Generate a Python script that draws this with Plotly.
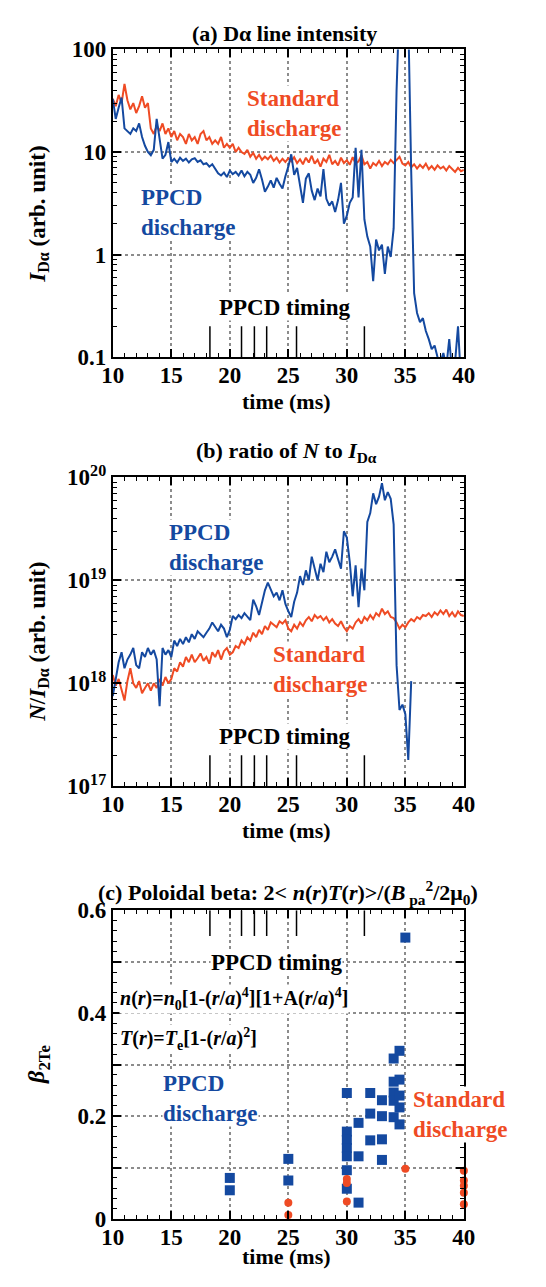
import numpy as np
import plotly.graph_objects as go

# ---------------- data ----------------
T0 = 10.0      # first sample time (ms)
STEP = 0.25    # spacing of the read-off samples (ms)

# (a) D-alpha line intensity (arb. unit)
ida_standard = [33, 28, 36, 30, 46, 32, 26, 30, 24, 28, 35, 27, 30, 17, 15, 18, 16, 19, 15, 17,
                14, 16, 13, 15, 14, 12, 15, 13, 14, 12, 15, 16, 13, 14, 12, 13, 12, 14, 11, 12,
                11, 12, 10, 11, 10, 9.6, 10.5, 9.0, 9.8, 8.6, 9.4, 8.4, 9.0, 8.5, 9.2, 8.2, 8.8, 7.9, 8.6, 8.0,
                8.7, 8.1, 8.9, 7.8, 8.5, 7.6, 8.8, 7.9, 9.2, 7.7, 8.4, 7.2, 8.6, 8.0, 9.4, 7.6, 8.2, 7.4, 8.8, 7.8,
                8.3, 7.5, 8.9, 7.7, 8.1, 9.3, 7.6, 8.0, 6.9, 7.8, 7.4, 8.2, 7.3, 8.0, 7.6, 8.4, 7.8, 8.3, 9.0, 7.7,
                7.4, 8.0, 7.1, 7.6, 6.9, 7.5, 7.0, 7.7, 6.8, 7.3, 6.7, 7.4, 6.9, 7.2, 6.6, 7.3, 6.8, 6.4, 7.0, 6.5,
                6.7]
ida_ppcd = [33, 21, 27, 34, 17, 16, 15, 17, 16, 19, 14, 11.5, 10, 9.3, 10.5, 21, 13, 8.6, 9.4, 12.5,
            8.0, 8.6, 7.9, 8.8, 8.2, 8.6, 7.9, 8.5, 8.7, 8.0, 8.3, 7.6, 7.8, 7.2, 7.6, 6.9, 6.2, 5.9, 6.3, 5.7,
            6.6, 6.1, 6.4, 5.9, 6.6, 5.8, 6.4, 6.0, 5.0, 5.6, 6.8, 5.4, 4.1, 4.6, 5.3, 4.5, 5.6, 4.9, 4.4, 5.8,
            7.2, 9.5, 6.0, 7.0, 4.6, 3.2, 5.5, 6.2, 4.2, 3.4, 4.4, 3.7, 6.8, 3.5, 3.0, 3.3, 2.6, 3.4, 5.0, 2.0,
            2.4, 3.2, 3.6, 11, 3.6, 10.5, 2.2, 1.5, 1.2, 0.55, 1.4, 1.1, 1.25, 0.65, 1.2, 0.95, 1.8, 40, 300, 500,
            400, 200, 6.5, 0.42, 0.27, 0.22, 0.24, 0.18, 0.15, 0.12, 0.13, 0.10, 0.09, 0.11, 0.08, 0.15, 0.07, 0.09, 0.20, 0.06,
            0.08]

# (b) ratio N / I_Dalpha, in units of 1e18
RATIO_UNIT = 1e18
ratio_standard = [1.2, 0.95, 1.1, 0.85, 0.68, 1.05, 1.4, 1.0, 0.9, 1.05, 0.8, 0.9, 1.0, 0.85, 1.0, 0.9, 1.1, 0.95, 1.15, 1.0,
                  1.1, 1.4, 1.3, 1.6, 1.45, 1.8, 1.6, 1.9, 1.6, 1.75, 1.95, 1.65, 1.8, 1.55, 2.0, 1.8, 2.1, 1.7, 2.05, 2.2,
                  1.9, 2.0, 2.3, 2.2, 2.6, 2.4, 2.8, 2.6, 3.1, 2.8, 3.3, 3.0, 3.6, 3.3, 3.9, 3.7, 3.5, 4.0, 3.8, 4.1,
                  3.4, 3.2, 3.7, 3.4, 3.9, 3.6, 4.1, 4.4, 4.0, 4.6, 4.3, 4.5, 4.1, 4.4, 3.9, 4.2, 3.8, 3.6, 4.0, 3.5,
                  3.2, 3.6, 3.4, 3.9, 4.2, 3.8, 4.4, 4.1, 4.6, 4.2, 4.8, 4.5, 5.3, 4.7, 5.0, 4.4, 4.3, 3.9, 3.4, 3.7,
                  3.5, 3.9, 4.2, 4.0, 4.4, 4.2, 4.6, 4.5, 4.8, 4.4, 4.9, 4.6, 5.1, 4.7, 5.2, 4.5, 4.9, 4.4, 5.0, 4.6,
                  4.5]
ratio_ppcd = [0.75, 1.1, 1.6, 2.0, 1.4, 1.7, 1.9, 2.2, 1.5, 1.4, 2.0, 1.8, 2.2, 1.9, 2.1, 1.7, 0.6, 2.2, 1.9, 2.1,
              1.8, 2.6, 2.3, 2.7, 2.4, 2.8, 2.5, 3.0, 2.7, 3.2, 3.0, 2.8, 3.1, 3.4, 3.9, 3.5, 3.2, 3.7, 3.4, 2.8,
              3.3, 4.5, 4.2, 4.6, 4.3, 4.8, 4.4, 4.1, 6.5, 5.6, 4.6, 6.1, 8.0, 9.5, 8.2, 7.0, 7.6, 6.4, 8.0, 5.9,
              5.0, 4.4, 6.2, 7.6, 11, 9.0, 12.5, 10, 17, 13, 10, 14.5, 12, 19, 15, 17, 20, 16, 13, 30,
              26, 15, 7, 14, 5.5, 13, 8, 37, 45, 70, 55, 65, 88, 60, 72, 62, 35, 1.5, 0.55, 0.62,
              0.5, 0.18, 1.05]

# PPCD pulse timings (ms)
ppcd_timing = [18.3, 21.0, 22.1, 23.15, 25.7, 31.5]

# (c) poloidal beta
beta_ppcd_t = [20, 20, 25, 25, 30, 30, 30, 30, 30, 30, 30, 31, 31, 31, 32, 32, 32,
               33, 33, 33, 33, 34, 34, 34, 34, 34, 34.5, 34.5, 34.5, 34.5, 34.5, 35]
beta_ppcd = [0.080, 0.056, 0.117, 0.075, 0.245, 0.170, 0.154, 0.138, 0.122, 0.095, 0.059,
             0.187, 0.122, 0.032, 0.245, 0.205, 0.153, 0.231, 0.200, 0.155, 0.115,
             0.312, 0.267, 0.246, 0.230, 0.198, 0.327, 0.271, 0.240, 0.217, 0.184, 0.547]
beta_std_t = [25, 25, 30, 30, 30, 35, 40, 40, 40, 40, 40]
beta_std = [0.032, 0.008, 0.078, 0.070, 0.034, 0.098, 0.094, 0.075, 0.065, 0.051, 0.029]

x_ticks = [10, 15, 20, 25, 30, 35, 40]

# ---------------- styles ----------------
RED = "#ef4b24"
BLUE = "#1449a0"
FONT = "Liberation Serif, Times New Roman, Times, DejaVu Serif, serif"
OFF = 8                      # default page margin of the html body
W, H = 546 - 2 * OFF, 1287 - 2 * OFF

def px(v):
    return (v - OFF) / W

def py(v):
    return 1 - (v - OFF) / H

def times(n):
    return T0 + STEP * np.arange(n)

fig = go.Figure()

# panel (a)
fig.add_trace(go.Scatter(x=times(len(ida_standard)), y=ida_standard, mode="lines",
                         line=dict(color=RED, width=2), xaxis="x", yaxis="y"))
fig.add_trace(go.Scatter(x=times(len(ida_ppcd)), y=ida_ppcd, mode="lines",
                         line=dict(color=BLUE, width=2), xaxis="x", yaxis="y"))

# panel (b)
fig.add_trace(go.Scatter(x=times(len(ratio_standard)), y=np.array(ratio_standard) * RATIO_UNIT,
                         mode="lines", line=dict(color=RED, width=2), xaxis="x2", yaxis="y2"))
fig.add_trace(go.Scatter(x=times(len(ratio_ppcd)), y=np.array(ratio_ppcd) * RATIO_UNIT,
                         mode="lines", line=dict(color=BLUE, width=2), xaxis="x2", yaxis="y2"))

# PPCD timing marks
def timing_trace(lo, hi, xa, ya):
    xs, ys = [], []
    for t in ppcd_timing:
        xs += [t, t, None]
        ys += [lo, hi, None]
    return go.Scatter(x=xs, y=ys, mode="lines", line=dict(color="black", width=1.5),
                      xaxis=xa, yaxis=ya)

fig.add_trace(timing_trace(0.1, 0.2, "x", "y"))
fig.add_trace(timing_trace(1e17, 2e17, "x2", "y2"))
fig.add_trace(timing_trace(0.55, 0.6, "x3", "y3"))

# panel (c)
fig.add_trace(go.Scatter(x=beta_ppcd_t, y=beta_ppcd, mode="markers",
                         marker=dict(symbol="square", size=10, color=BLUE),
                         cliponaxis=False, xaxis="x3", yaxis="y3"))
fig.add_trace(go.Scatter(x=beta_std_t, y=beta_std, mode="markers",
                         marker=dict(symbol="circle", size=8, color=RED),
                         cliponaxis=False, xaxis="x3", yaxis="y3"))

xdom = [px(105), px(472)]
doms = [[py(349), py(34)], [py(788), py(472)], [py(1231), py(915)]]

TICKFONT = dict(family=FONT, size=23, color="black", weight="bold")
grid = dict(showgrid=True, gridcolor="#8c8c8c", griddash="dot", gridwidth=2)
axis_common = dict(showline=True, linecolor="black", linewidth=2, mirror="allticks",
                   ticks="inside", ticklen=8, tickwidth=1.5, tickcolor="black",
                   zeroline=False, tickfont=TICKFONT, **grid)

def xaxis_def(i):
    d = dict(axis_common)
    d.update(domain=xdom, range=[10, 40], tickvals=x_ticks, anchor="y" if i == 1 else f"y{i}",
             ticklabelstandoff=-4,
             minor=dict(ticks="inside", ticklen=4, tickwidth=1.2, tickcolor="black", dtick=1, showgrid=False))
    return d

log_minor_a = [m * 10.0 ** e for e in (-1, 0, 1) for m in range(2, 10)]
log_minor_b = [m * 10.0 ** e for e in (17, 18, 19) for m in range(2, 10)]

ya = dict(axis_common)
ya.update(domain=doms[0], type="log", range=[-1, 2], tickvals=[0.1, 1, 10, 100],
          ticktext=["0.1", "1", "10", "100"], anchor="x",
          minor=dict(ticks="inside", ticklen=4, tickwidth=1.2, tickcolor="black",
                     tickvals=log_minor_a, showgrid=False))
yb = dict(axis_common)
yb.update(domain=doms[1], type="log", range=[17, 20], tickvals=[1e17, 1e18, 1e19, 1e20],
          ticktext=["10<sup>17</sup>", "10<sup>18</sup>", "10<sup>19</sup>", "10<sup>20</sup>"],
          anchor="x2",
          minor=dict(ticks="inside", ticklen=4, tickwidth=1.2, tickcolor="black",
                     tickvals=log_minor_b, showgrid=False))
yc = dict(axis_common)
yc.update(domain=doms[2], range=[0, 0.6], tickvals=[0, 0.1, 0.2, 0.3, 0.4, 0.5, 0.6],
          ticktext=["0", "", "0.2", "", "0.4", "", "0.6"], anchor="x3",
          minor=dict(ticks="inside", ticklen=4, tickwidth=1.2, tickcolor="black",
                     dtick=0.02, showgrid=False))

annos = []

def note(x, y, text, size=23, color="black", bg="white", xanchor="center", align="center", angle=0):
    annos.append(dict(x=px(x), y=py(y), xref="paper", yref="paper", text=text, showarrow=False,
                      xanchor=xanchor, yanchor="middle", align=align, textangle=angle,
                      bgcolor=bg, borderpad=0,
                      font=dict(family=FONT, size=size, color=color, weight="bold")))

CLEAR = "rgba(0,0,0,0)"
# titles
note(285, 18, "(a) Dα line intensity", size=22, bg=CLEAR)
note(287, 446, "(b) ratio of <i>N</i> to <i>I</i><sub>Dα</sub>", size=22, bg=CLEAR)
note(288, 897, "(c) Poloidal beta: 2&lt; <i>n</i>(<i>r</i>)<i>T</i>(<i>r</i>)&gt;/(<i>B</i><sub> pa</sub><sup>2</sup>/2μ<sub>0</sub>)",
     size=22, bg=CLEAR)

# x titles
for yy in (394, 833, 1269):
    note(287, yy, "time (ms)", size=22, bg=CLEAR)

# y titles
note(27, 203, "<i>I</i><sub>Dα</sub> (arb. unit)", size=23, angle=-90, bg=CLEAR)
note(27, 640, "<i>N</i>/<i>I</i><sub>Dα</sub> (arb. unit)", size=23, angle=-90, bg=CLEAR)
note(27, 1073, "<i>β</i><sub>2Te</sub>", size=24, angle=-90, bg=CLEAR)

# panel (a) labels
note(244, 100, "Standard<br>discharge", color=RED, xanchor="left", align="left")
note(133, 201, "PPCD<br>discharge", color=BLUE, xanchor="left", align="left")
note(284, 298, "PPCD timing")

# panel (b) labels
note(163, 544, "PPCD<br>discharge", color=BLUE, xanchor="left", align="left")
note(271, 669, "Standard<br>discharge", color=RED, xanchor="left", align="left")
note(284, 737, "PPCD timing")

# panel (c) labels
note(276, 968, "PPCD timing")
note(112, 1006, "<i>n</i>(<i>r</i>)=<i>n</i><sub>0</sub>[1-(<i>r</i>/<i>a</i>)<sup>4</sup>][1+A(<i>r</i>/<i>a</i>)<sup>4</sup>]",
     size=20, xanchor="left", align="left")
note(112, 1047, "<i>T</i>(<i>r</i>)=<i>T</i><sub>e</sub>[1-(<i>r</i>/<i>a</i>)<sup>2</sup>]",
     size=20, xanchor="left", align="left")
note(156, 1108, "PPCD<br>discharge", color=BLUE, xanchor="left", align="left")
note(418, 1124, "Standard<br>discharge", color=RED, xanchor="left", align="left")

fig.update_layout(
    width=W, height=H, margin=dict(l=0, r=0, t=0, b=0),
    paper_bgcolor="white", plot_bgcolor="white", showlegend=False,
    font=dict(family=FONT, size=22, color="black", weight="bold"),
    xaxis=xaxis_def(1), xaxis2=xaxis_def(2), xaxis3=xaxis_def(3),
    yaxis=ya, yaxis2=yb, yaxis3=yc,
    annotations=annos,
)

fig.write_html("out.html")
